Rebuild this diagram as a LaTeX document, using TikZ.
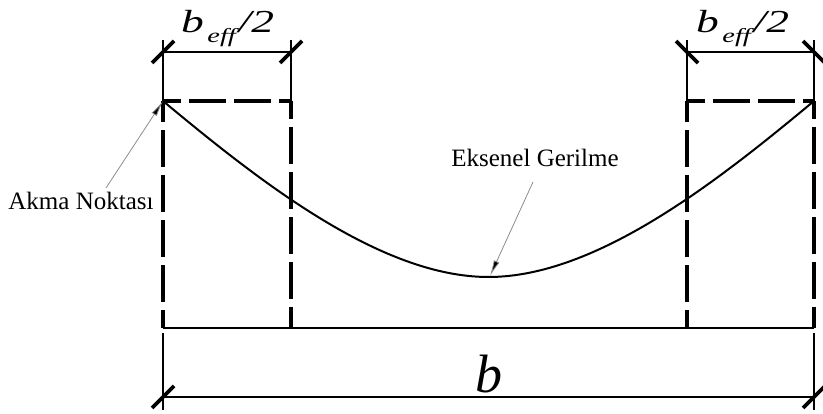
\documentclass[tikz,border=0pt]{standalone}
\usepackage{fontspec}
\setmainfont{Liberation Serif}
\usetikzlibrary{arrows.meta,calc}
\newcommand{\mybeff}{\scalebox{1.42}[1]{\fontsize{32}{32}\selectfont\itshape b\kern2.5pt\raisebox{-10pt}{\fontsize{20}{20}\selectfont eff}\kern2pt/2}}
\begin{document}
\begin{tikzpicture}[x=1pt,y=-1pt,
  dashbox/.style={line width=4pt, dash pattern=on 37pt off 8pt, dash phase=19pt},
  baseline/.style={line width=2.6pt},
  dimline/.style={line width=1.4pt},
  extline/.style={line width=1.2pt},
  ticksty/.style={line width=3.6pt},
  curvesty/.style={line width=2pt},
  arrowsty/.style={line width=0.8pt, draw=black!45, -{Latex[length=16pt,width=6pt,fill=black]}},
  lbl/.style={font=\fontsize{25}{25}\selectfont, inner sep=0pt, anchor=base}]
\useasboundingbox (0,0) rectangle (823,414);
% corners
\coordinate (LBL) at (163,328);
\coordinate (LTL) at (163,101);
\coordinate (LTR) at (291,101);
\coordinate (LBR) at (291,328);
\coordinate (RBL) at (687,328);
\coordinate (RTL) at (687,101);
\coordinate (RTR) at (814,101);
\coordinate (RBR) at (814,328);
% dashed boxes
\draw[dashbox] (LBL) -- (LTL);
\draw[dashbox] (LTL) -- (LTR);
\draw[dashbox] (LTR) -- (LBR);
\draw[dashbox] (RBL) -- (RTL);
\draw[dashbox] (RTL) -- (RTR);
\draw[dashbox] (RTR) -- (RBR);
\draw[baseline] (LBL) -- (RBR);
% extension lines
\coordinate (eL1) at (163,40);
\coordinate (eL2) at (291,40);
\coordinate (eR1) at (687,40);
\coordinate (eR2) at (814,40);
\draw[extline] (eL1) -- (LTL);
\draw[extline] (eL2) -- (LTR);
\draw[extline] (eR1) -- (RTL);
\draw[extline] (eR2) -- (RTR);
\coordinate (bL1) at (163,333);
\coordinate (bL2) at (163,410);
\coordinate (bR1) at (814,333);
\coordinate (bR2) at (814,410);
\draw[extline] (bL1) -- (bL2);
\draw[extline] (bR1) -- (bR2);
% dimension lines
\coordinate (dL1) at (163,52);
\coordinate (dL2) at (291,52);
\coordinate (dR1) at (687,52);
\coordinate (dR2) at (814,52);
\coordinate (dB1) at (163,397);
\coordinate (dB2) at (814,397);
\draw[dimline] (dL1) -- (dL2);
\draw[dimline] (dR1) -- (dR2);
\draw[dimline] (dB1) -- (dB2);
% ticks
\foreach \p in {dL1,dL2,dB1,dB2}
  \draw[ticksty] ($(\p)+(-11,11)$) -- ($(\p)+(11,-11)$);
\foreach \p in {dR1,dR2}
  \draw[ticksty] ($(\p)+(-11,-11)$) -- ($(\p)+(11,11)$);
% stress curve
\coordinate (cmid) at (488.5,277);
\draw[curvesty] (LTL) .. controls (258,180) and (380,277) .. (cmid)
  .. controls (597,277) and (719,180) .. (RTR);
% labels
\node[anchor=base west, inner sep=0pt] (labL) at (181,33) {\mybeff};
\node[anchor=base west, inner sep=0pt] (labR) at (696,33) {\mybeff};
\node[anchor=base, inner sep=0pt, font=\fontsize{54}{54}\selectfont\itshape] (bmain) at (489,392) {b};
\node[lbl] (akma) at (81,210) {Akma Noktası};
\node[lbl] (eks) at (535,167) {Eksenel Gerilme};
\coordinate (akmaS) at (106,188);
\coordinate (eksS) at (533,182);
\coordinate (eksT) at (490,276);
\draw[arrowsty] (akmaS) -- (LTL);
\draw[arrowsty] (eksS) -- (eksT);
\end{tikzpicture}
\end{document}
